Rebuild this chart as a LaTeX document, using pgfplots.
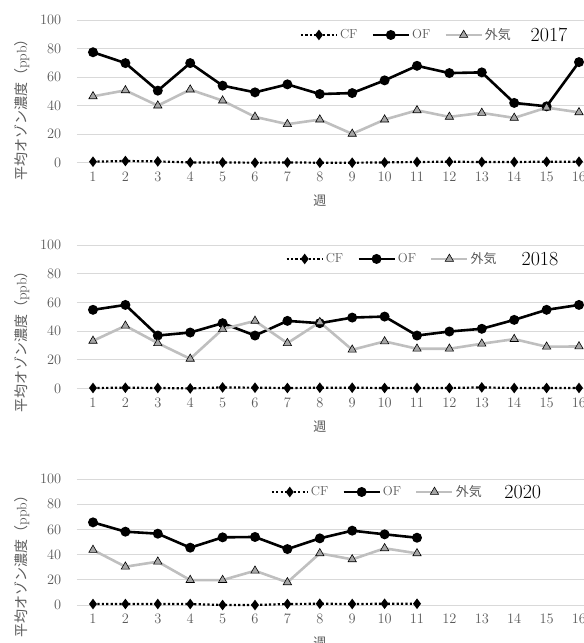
\documentclass[border=0pt]{standalone}
\usepackage{fontspec}
\usepackage{pgfplots}
\pgfplotsset{compat=1.18}
\newfontfamily\jp{Noto Sans CJK JP}
\definecolor{tickgray}{HTML}{595959}
\definecolor{gridgray}{HTML}{D9D9D9}
\definecolor{airline}{HTML}{BFBFBF}
\definecolor{airfill}{HTML}{A6A6A6}
\pgfplotsset{
 panel/.style={
  scale only axis, width=518.4pt,
  xmin=0.5, xmax=16.5, ymin=0, ymax=100,
  xtick={1,...,16}, ytick={0,20,...,100},
  axis line style={draw=none}, major tick length=0pt,
  ymajorgrids, grid style={gridgray, line width=1pt},
  yticklabel style={xshift=-12pt},
  xticklabel style={yshift=-6pt},
  xlabel style={at={(rel axis cs:0.46875,0)}, anchor=center, yshift=-38pt},
  ylabel style={anchor=center},
  legend columns=3,
  legend style={draw=none, fill=none, anchor=east,
    /tikz/every even column/.append style={column sep=12pt}},
  legend image code/.code={\draw[mark repeat=2,mark phase=2] plot coordinates {(0pt,0pt) (18pt,0pt) (36pt,0pt)};},
  clip=false,
 },
 cf/.style={black, dash pattern=on 2.2pt off 2.2pt, line width=2.2pt, mark=diamond*, mark size=3.5pt, mark options={solid, fill=black}},
 of/.style={black, line width=2.6pt, mark=*, mark size=3.6pt, mark options={solid}},
 air/.style={airline, line width=2.6pt, mark=triangle*, mark size=4.8pt, mark options={solid, fill=airfill, draw=black, line width=0.6pt}},
}
\begin{document}
\begin{tikzpicture}
\useasboundingbox (0,0) rectangle (584pt,-643pt);
\clip (0,0) rectangle (584pt,-643pt);
% ---------- 2017 ----------
\begin{axis}[panel, at={(76.8pt,-162.7pt)}, height=142.7pt,
  tick label style={font=\fontsize{14}{14}\selectfont, text=tickgray},
  xlabel={\fontsize{13}{13}\selectfont\color{tickgray}\jp 週},
  ylabel={\fontsize{14}{14}\selectfont\color{tickgray}{\jp 平均オゾン濃度（}ppb{\jp ）}},
  ylabel style={at={(rel axis cs:-0.1057,0.394)}},
  legend style={at={(axis cs:14.06,89.5)}, font=\fontsize{13}{13}\selectfont, text=tickgray}]
\addplot[cf] coordinates {(1,0.7)(2,1.2)(3,0.9)(4,0.2)(5,0.2)(6,0)(7,0.2)(8,0)(9,0)(10,0.2)(11,0.5)(12,0.7)(13,0.5)(14,0.5)(15,0.7)(16,0.7)};
\addlegendentry{CF}
\addplot[of] coordinates {(1,77.4)(2,69.8)(3,50.5)(4,69.8)(5,54)(6,49.3)(7,54.9)(8,48.1)(9,48.8)(10,57.7)(11,67.9)(12,62.8)(13,63.3)(14,41.9)(15,39.5)(16,70.5)};
\addlegendentry{OF}
\addplot[air] coordinates {(1,46.5)(2,50.7)(3,40)(4,51.2)(5,43.5)(6,32.1)(7,27)(8,30.2)(9,20.2)(10,30.2)(11,36.7)(12,32.1)(13,34.9)(14,31.4)(15,38.6)(16,35.3)};
\addlegendentry{\jp 外気}
\node[anchor=west, font=\fontsize{20}{20}\selectfont] at (axis cs:14.40,89.5) {2017};
\end{axis}
% ---------- 2018 ----------
\begin{axis}[panel, at={(76.8pt,-388.7pt)}, height=143.7pt,
  tick label style={font=\fontsize{14}{14}\selectfont, text=tickgray},
  xlabel={\fontsize{13}{13}\selectfont\color{tickgray}\jp 週},
  ylabel={\fontsize{14}{14}\selectfont\color{tickgray}{\jp 平均オゾン濃度（}ppb{\jp ）}},
  ylabel style={at={(rel axis cs:-0.1057,0.349)}},
  legend style={at={(axis cs:13.62,90.3)}, font=\fontsize{13}{13}\selectfont, text=tickgray}]
\addplot[cf] coordinates {(1,0.5)(2,0.7)(3,0.5)(4,0.2)(5,0.9)(6,0.7)(7,0.5)(8,0.7)(9,0.7)(10,0.5)(11,0.5)(12,0.5)(13,0.9)(14,0.5)(15,0.5)(16,0.5)};
\addlegendentry{CF}
\addplot[of] coordinates {(1,54.9)(2,58.3)(3,37)(4,39.1)(5,45.6)(6,37)(7,47.2)(8,45.6)(9,49.5)(10,50.2)(11,37)(12,39.8)(13,41.7)(14,47.9)(15,54.9)(16,58.3)};
\addlegendentry{OF}
\addplot[air] coordinates {(1,33.3)(2,43.8)(3,31.7)(4,20.8)(5,41.4)(6,47.2)(7,31.7)(8,46.3)(9,27.1)(10,32.9)(11,27.8)(12,27.8)(13,31.3)(14,34.5)(15,29.2)(16,29.4)};
\addlegendentry{\jp 外気}
\node[anchor=west, font=\fontsize{20}{20}\selectfont] at (axis cs:14.12,90.3) {2018};
\end{axis}
% ---------- 2020 ----------
\begin{axis}[panel, at={(76.8pt,-605pt)}, height=126pt,
  tick label style={font=\fontsize{14}{14}\selectfont, text=tickgray},
  xlabel={\fontsize{13}{13}\selectfont\color{tickgray}\jp 週},
  ylabel={\fontsize{14}{14}\selectfont\color{tickgray}{\jp 平均オゾン濃度（}ppb{\jp ）}},
  ylabel style={at={(rel axis cs:-0.1057,0.333)}},
  legend style={at={(axis cs:13.16,89.7)}, font=\fontsize{13}{13}\selectfont, text=tickgray}]
\addplot[cf] coordinates {(1,0.8)(2,0.8)(3,0.8)(4,0.8)(5,0)(6,0)(7,0.8)(8,1)(9,0.8)(10,1)(11,1)};
\addlegendentry{CF}
\addplot[of] coordinates {(1,65.6)(2,58.2)(3,56.6)(4,45.5)(5,53.7)(6,54)(7,44.4)(8,52.9)(9,59)(10,56.1)(11,53.4)};
\addlegendentry{OF}
\addplot[air] coordinates {(1,43.7)(2,30.4)(3,34.4)(4,19.8)(5,19.8)(6,27.2)(7,18)(8,41)(9,36.2)(10,45)(11,41)};
\addlegendentry{\jp 外気}
\node[anchor=west, font=\fontsize{20}{20}\selectfont] at (axis cs:13.59,89.7) {2020};
\end{axis}
\end{tikzpicture}
\end{document}
